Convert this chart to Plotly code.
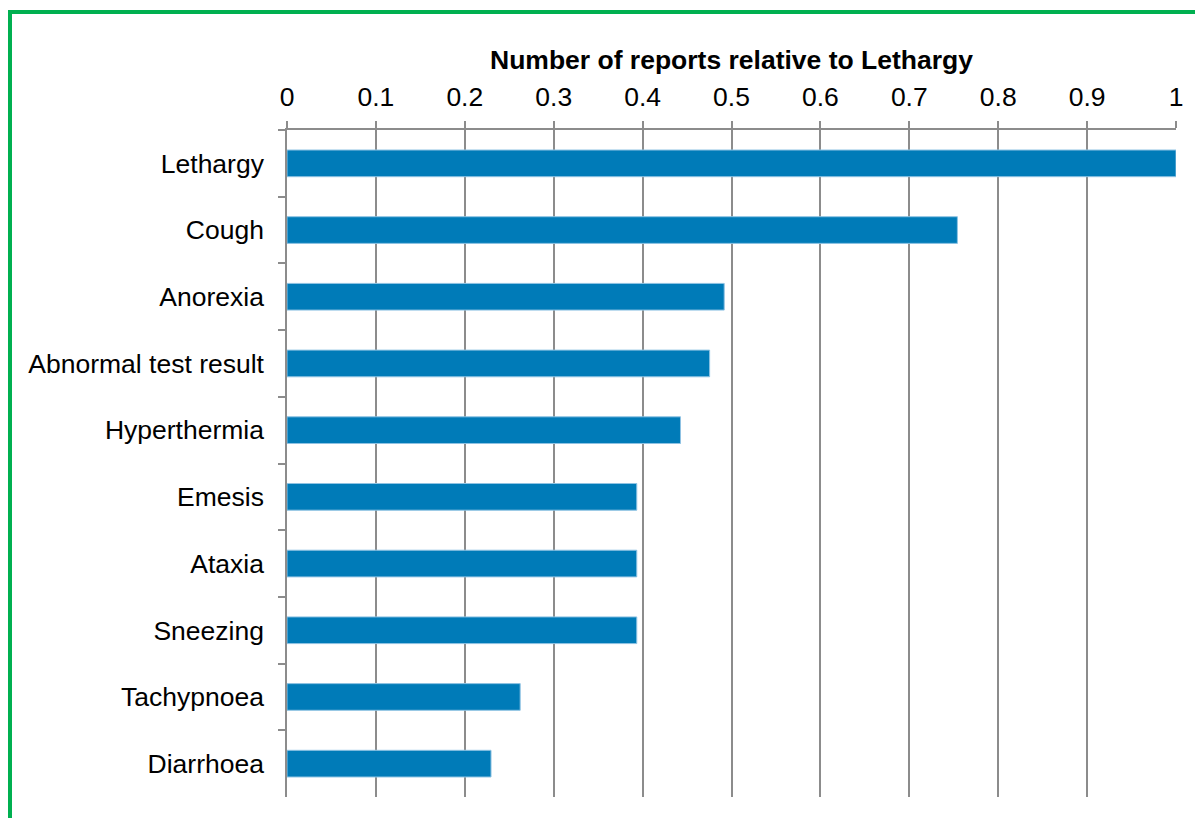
import plotly.graph_objects as go

categories = ["Lethargy", "Cough", "Anorexia", "Abnormal test result", "Hyperthermia",
              "Emesis", "Ataxia", "Sneezing", "Tachypnoea", "Diarrhoea"]
counts = [61, 46, 30, 29, 27, 24, 24, 24, 16, 14]
relative = [c / counts[0] for c in counts]
x_ticks = [0, 0.1, 0.2, 0.3, 0.4, 0.5, 0.6, 0.7, 0.8, 0.9, 1]
x_tick_labels = ["0", "0.1", "0.2", "0.3", "0.4", "0.5", "0.6", "0.7", "0.8", "0.9", "1"]

FONT = "Liberation Sans, Arial, sans-serif"
GRID = "#8c8c8c"
FS = 26.5

fig = go.Figure(go.Bar(
    x=relative, y=categories, orientation="h",
    marker=dict(color="#007bb8", line=dict(color="#8fc3e3", width=1)),
))

# page body has an 8px margin: screen coords = figure coords + 8
OFF = 8
W, H = 1203, 818
L, R, T, B = 287 - OFF, 1203 - (1176 - OFF), 130 - OFF, 818 - (797 - OFF)
pw = W - L - R
ph = H - T - B

def px_x(p):
    return (p - OFF - L) / pw

def px_y(p):
    return (H - B - (p - OFF)) / ph

fig.update_layout(
    width=W, height=H,
    margin=dict(l=L, r=R, t=T, b=B),
    paper_bgcolor="white", plot_bgcolor="white",
    bargap=0.6, showlegend=False,
    font=dict(family=FONT, size=FS, color="black"),
    xaxis=dict(
        side="top", range=[0, 1], tickvals=x_ticks, ticktext=x_tick_labels,
        showgrid=True, gridcolor=GRID, gridwidth=1.5,
        showline=True, linecolor=GRID, linewidth=1.5,
        ticks="outside", ticklen=7, tickcolor=GRID, tickwidth=1.5,
        ticklabelstandoff=5,
        zeroline=False,
        title=dict(text="<b>Number of reports relative to Lethargy</b>",
                   font=dict(size=FS, family=FONT), standoff=4),
        tickfont=dict(size=FS, family=FONT),
    ),
    yaxis=dict(
        autorange="reversed", type="category",
        showline=True, linecolor=GRID, linewidth=1.5,
        ticks="outside", ticklen=7, tickcolor=GRID, tickwidth=1.5,
        tickson="boundaries", showgrid=False,
        ticklabelstandoff=16,
        tickfont=dict(size=FS, family=FONT),
    ),
    shapes=[dict(
        type="rect", xref="paper", yref="paper",
        x0=px_x(10), x1=px_x(1240), y0=px_y(850), y1=px_y(12),
        line=dict(color="#00b050", width=4), fillcolor="rgba(0,0,0,0)",
        layer="above",
    )],
)

fig.write_html("out.html")
